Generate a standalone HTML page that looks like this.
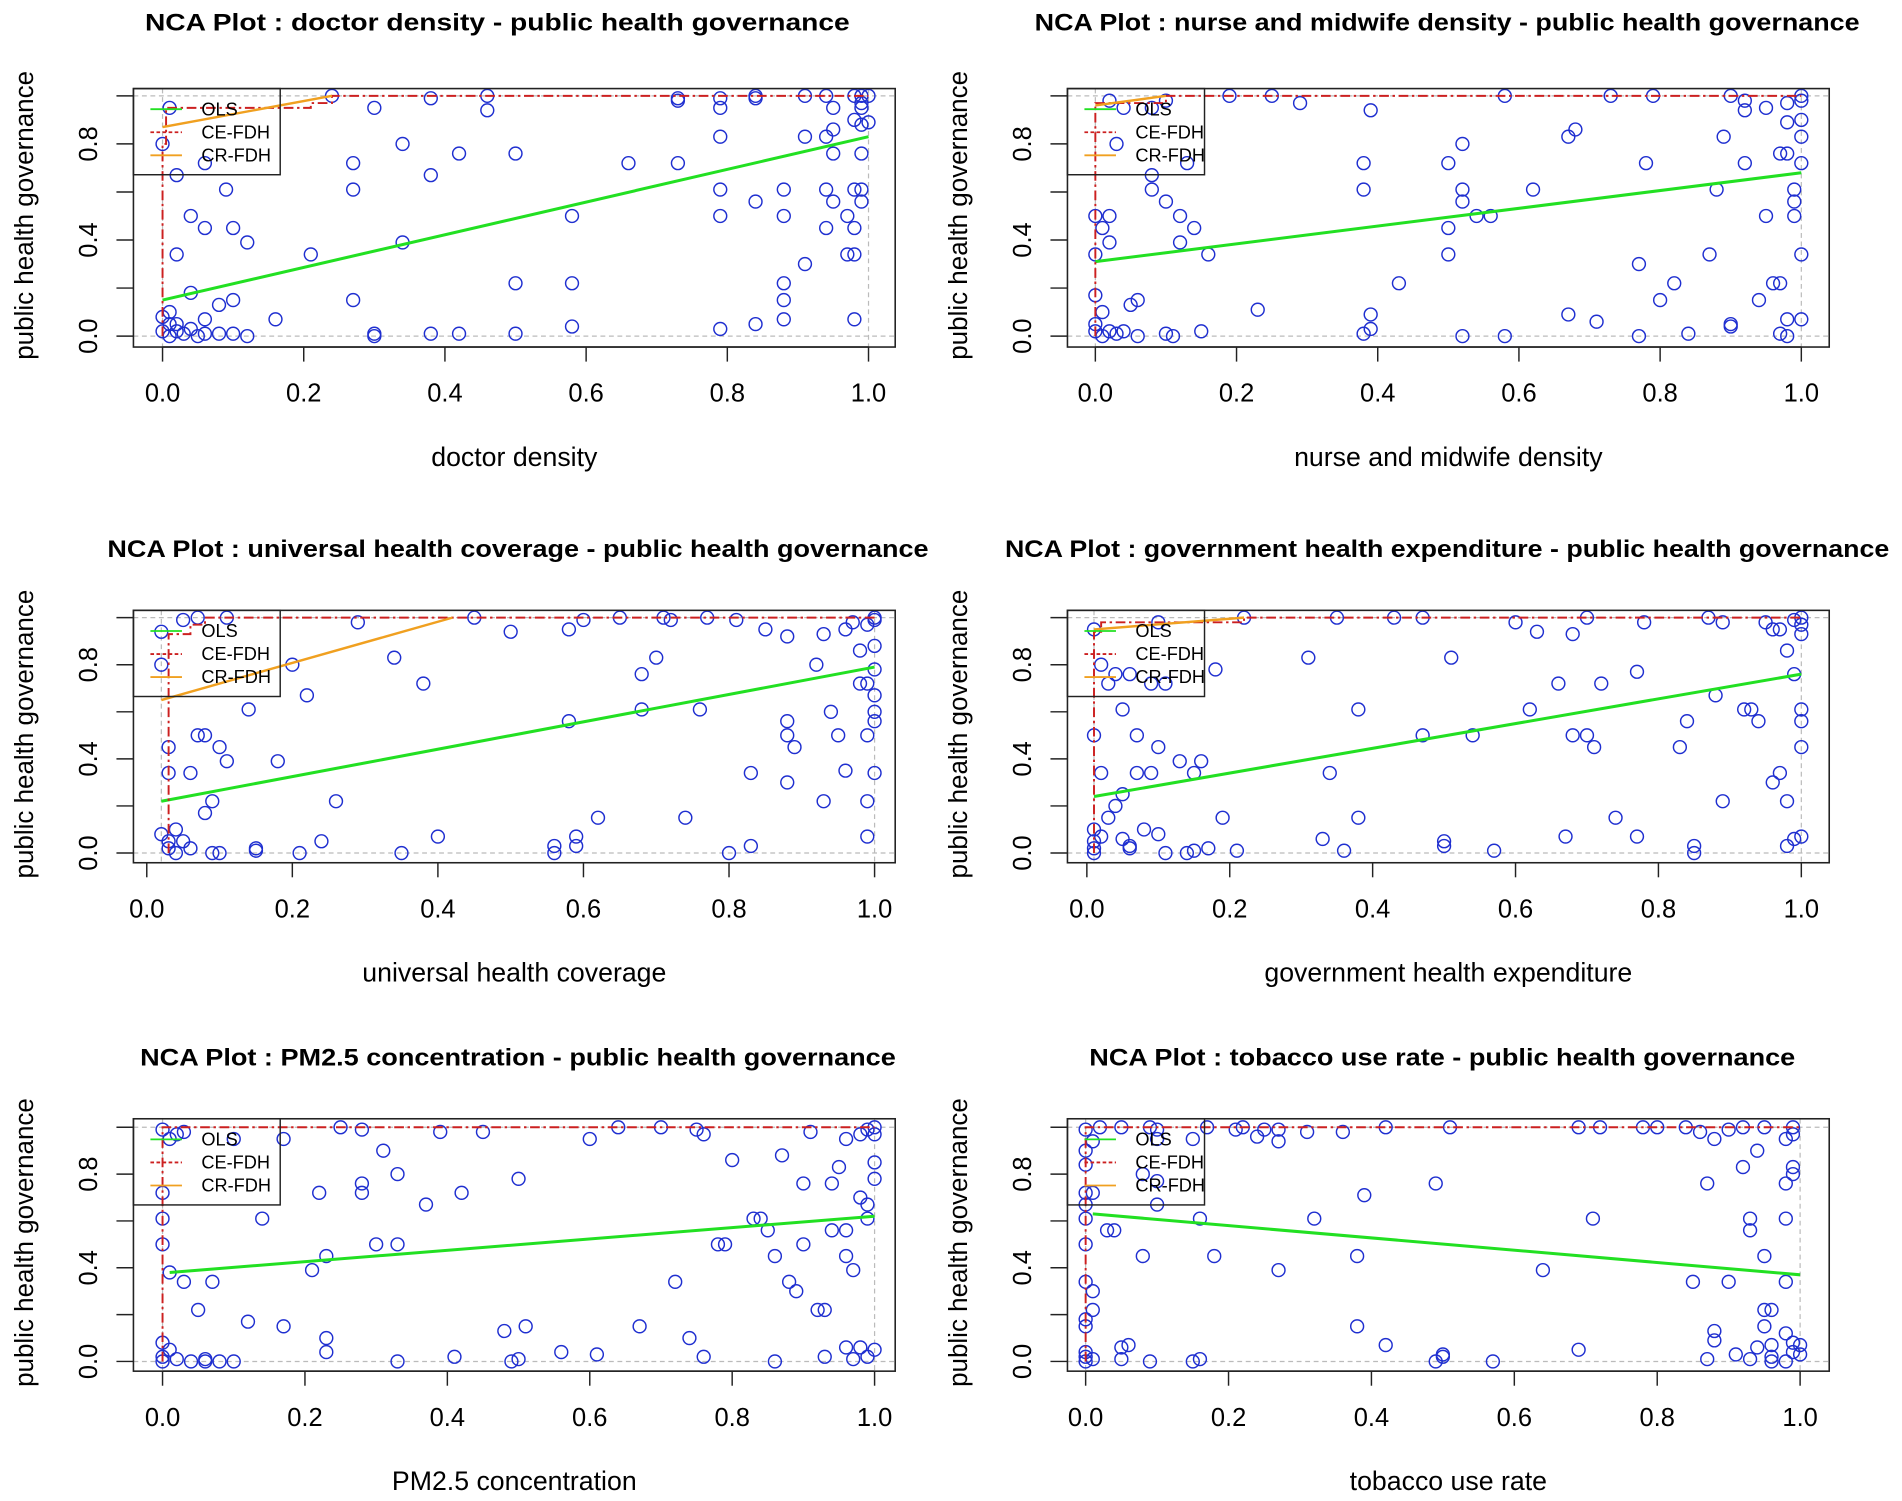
<!DOCTYPE html>
<html><head><meta charset="utf-8"><style>
html,body{margin:0;padding:0;background:#fff;}
svg{display:block;}
text{font-family:"Liberation Sans",Arial,sans-serif;fill:#000;}
</style></head><body>
<svg id="chart" width="1902" height="1501" viewBox="0 0 1568 1237" preserveAspectRatio="none" xmlns="http://www.w3.org/2000/svg"></svg>
<script>
const titles=["doctor density","nurse and midwife density","universal health coverage","government health expenditure","PM2.5 concentration","tobacco use rate"];
const xTickLabels=["0.0","0.2","0.4","0.6","0.8","1.0"];
const yTickLabels=["0.0","0.4","0.8"];
const olsLines=[[0,0.15,1,0.83],[0,0.31,1,0.68],[0.02,0.22,1,0.79],[0.01,0.24,1,0.76],[0.01,0.38,1,0.62],[0.01,0.63,1,0.37]];
const ceSteps=[
 [[0,0],[0,0.8],[0.005,0.8],[0.005,0.95],[0.21,0.95],[0.21,0.97],[0.24,0.97],[0.24,1],[1,1]],
 [[0,0],[0,0.97],[0.1,0.97],[0.1,1],[1,1]],
 [[0.03,0],[0.03,0.93],[0.06,0.93],[0.06,0.97],[0.08,0.97],[0.08,1],[1,1]],
 [[0.01,0],[0.01,0.94],[0.02,0.94],[0.02,0.98],[0.22,0.98],[0.22,1],[1,1]],
 [[0,0],[0,1],[1,1]],
 [[0,0],[0,1],[1,1]]];
const crLines=[[0,0.87,0.24,1],[0,0.96,0.1,1],[0.02,0.65,0.42,1],[0.01,0.95,0.22,1],null,null];
const pts1=[[0,0.08],[0,0.02],[0.01,0.05],[0.01,0],[0.02,0.02],[0.02,0.05],[0.03,0.01],[0.01,0.1],[0.04,0.03],[0.05,0],[0.06,0.07],[0.06,0.01],[0.08,0.01],[0.1,0.01],[0.12,0],[0.16,0.07],[0.08,0.13],[0.1,0.15],[0.04,0.18],[0.02,0.34],[0.12,0.39],[0.06,0.45],[0.1,0.45],[0.04,0.5],[0.09,0.61],[0.02,0.67],[0.06,0.72],[0,0.8],[0.01,0.95],[0.21,0.34],[0.27,0.15],[0.27,0.61],[0.27,0.72],[0.3,0],[0.3,0.01],[0.3,0.95],[0.34,0.39],[0.34,0.8],[0.38,0.01],[0.38,0.67],[0.38,0.99],[0.42,0.01],[0.42,0.76],[0.46,1],[0.46,0.94],[0.5,0.01],[0.5,0.22],[0.5,0.76],[0.58,0.04],[0.58,0.22],[0.58,0.5],[0.66,0.72],[0.73,0.72],[0.73,0.99],[0.73,0.98],[0.79,0.03],[0.79,0.5],[0.79,0.61],[0.79,0.83],[0.79,0.95],[0.79,0.99],[0.84,0.05],[0.84,0.56],[0.84,0.99],[0.84,1],[0.88,0.07],[0.88,0.15],[0.88,0.22],[0.88,0.5],[0.88,0.61],[0.91,0.3],[0.91,0.83],[0.91,1],[0.94,0.45],[0.94,0.61],[0.94,0.83],[0.94,1],[0.95,0.56],[0.95,0.76],[0.95,0.86],[0.95,0.95],[0.97,0.34],[0.97,0.5],[0.98,0.07],[0.98,0.34],[0.98,0.45],[0.98,0.61],[0.98,0.9],[0.98,1],[0.99,0.56],[0.99,0.61],[0.99,0.76],[0.99,0.88],[0.99,0.95],[0.99,0.97],[1,0.89],[1,1],[0.99,1],[0.24,1]];
const pts2=[[0,0.02],[0,0.05],[0.01,0.1],[0.01,0],[0.02,0.02],[0.03,0.01],[0.04,0.02],[0,0.17],[0,0.34],[0,0.5],[0.01,0.45],[0.02,0.39],[0.02,0.5],[0.03,0.8],[0.04,0.95],[0.05,0.13],[0.06,0.15],[0.06,0],[0.08,0.61],[0.08,0.67],[0.1,0.01],[0.11,0],[0.12,0.5],[0.12,0.39],[0.13,0.72],[0.14,0.45],[0.15,0.02],[0.16,0.34],[0.1,0.56],[0.08,0.95],[0.1,0.98],[0.02,0.98],[0.19,1],[0.23,0.11],[0.25,1],[0.29,0.97],[0.38,0.61],[0.38,0.72],[0.38,0.01],[0.39,0.03],[0.39,0.09],[0.39,0.94],[0.43,0.22],[0.5,0.34],[0.5,0.45],[0.5,0.72],[0.52,0.8],[0.52,0.56],[0.52,0.61],[0.52,0],[0.54,0.5],[0.56,0.5],[0.58,0],[0.58,1],[0.62,0.61],[0.67,0.83],[0.67,0.09],[0.68,0.86],[0.71,0.06],[0.73,1],[0.77,0.3],[0.77,0],[0.78,0.72],[0.79,1],[0.8,0.15],[0.82,0.22],[0.84,0.01],[0.87,0.34],[0.88,0.61],[0.89,0.83],[0.9,0.04],[0.9,0.05],[0.9,1],[0.92,0.72],[0.92,0.94],[0.92,0.98],[0.94,0.15],[0.95,0.5],[0.95,0.95],[0.96,0.22],[0.97,0.76],[0.97,0.22],[0.97,0.01],[0.98,0.07],[0.98,0.76],[0.98,0.89],[0.98,0.97],[0.98,0],[0.99,0.56],[0.99,0.61],[1,0.34],[1,0.72],[1,0.83],[1,0.9],[1,0.98],[1,1],[1,0.07],[0.99,0.5]];
const pts3=[[0.02,0.08],[0.03,0.02],[0.03,0.05],[0.04,0],[0.04,0.1],[0.03,0.34],[0.03,0.45],[0.02,0.8],[0.02,0.94],[0.05,0.05],[0.06,0.02],[0.06,0.34],[0.07,0.5],[0.08,0.5],[0.08,0.17],[0.09,0.22],[0.09,0],[0.1,0],[0.1,0.45],[0.11,0.39],[0.14,0.61],[0.15,0.01],[0.15,0.02],[0.18,0.39],[0.2,0.8],[0.21,0],[0.22,0.67],[0.24,0.05],[0.26,0.22],[0.29,0.98],[0.34,0.83],[0.35,0],[0.38,0.72],[0.4,0.07],[0.45,1],[0.5,0.94],[0.56,0],[0.56,0.03],[0.58,0.56],[0.58,0.95],[0.59,0.03],[0.59,0.07],[0.6,0.99],[0.62,0.15],[0.65,1],[0.68,0.61],[0.68,0.76],[0.7,0.83],[0.71,1],[0.72,0.99],[0.74,0.15],[0.76,0.61],[0.77,1],[0.8,0],[0.81,0.99],[0.83,0.03],[0.83,0.34],[0.85,0.95],[0.88,0.3],[0.88,0.5],[0.88,0.56],[0.88,0.92],[0.89,0.45],[0.92,0.8],[0.93,0.93],[0.93,0.22],[0.94,0.6],[0.95,0.5],[0.96,0.35],[0.96,0.95],[0.97,0.98],[0.98,0.72],[0.98,0.86],[0.99,0.07],[0.99,0.22],[0.99,0.5],[0.99,0.72],[0.99,0.97],[1,0.34],[1,0.56],[1,0.6],[1,0.67],[1,0.78],[1,0.88],[1,0.99],[1,1],[0.07,1],[0.11,1],[0.05,0.99]];
const pts4=[[0.01,0],[0.01,0.02],[0.01,0.05],[0.01,0.1],[0.01,0.5],[0.01,0.95],[0.02,0.34],[0.02,0.8],[0.02,0.07],[0.03,0.15],[0.03,0.72],[0.04,0.2],[0.04,0.76],[0.05,0.06],[0.05,0.61],[0.05,0.25],[0.06,0.03],[0.06,0.76],[0.06,0.02],[0.07,0.5],[0.07,0.34],[0.08,0.1],[0.09,0.72],[0.09,0.34],[0.1,0.45],[0.1,0.08],[0.11,0],[0.11,0.72],[0.1,0.98],[0.13,0.39],[0.14,0],[0.15,0.34],[0.15,0.01],[0.16,0.39],[0.17,0.02],[0.18,0.78],[0.19,0.15],[0.21,0.01],[0.22,1],[0.31,0.83],[0.33,0.06],[0.34,0.34],[0.35,1],[0.36,0.01],[0.38,0.61],[0.38,0.15],[0.43,1],[0.47,1],[0.47,0.5],[0.5,0.05],[0.5,0.03],[0.51,0.83],[0.54,0.5],[0.57,0.01],[0.6,0.98],[0.62,0.61],[0.63,0.94],[0.66,0.72],[0.67,0.07],[0.68,0.93],[0.68,0.5],[0.7,0.5],[0.7,1],[0.71,0.45],[0.72,0.72],[0.74,0.15],[0.77,0.77],[0.77,0.07],[0.78,0.98],[0.83,0.45],[0.84,0.56],[0.85,0.03],[0.85,0],[0.87,1],[0.88,0.67],[0.89,0.98],[0.89,0.22],[0.92,0.61],[0.93,0.61],[0.94,0.56],[0.95,0.98],[0.96,0.3],[0.97,0.34],[0.97,0.95],[0.98,0.22],[0.98,0.03],[0.98,0.86],[0.99,0.06],[0.99,0.76],[1,0.45],[1,0.56],[1,0.61],[1,0.93],[1,0.97],[1,1],[0.99,0.99],[0.96,0.95],[1,0.07]];
const pts5=[[0,0],[0,0.02],[0,0.08],[0,0.5],[0,0.61],[0,0.72],[0,0.99],[0.01,0.05],[0.01,0.38],[0.01,0.95],[0.02,0.01],[0.02,0.97],[0.03,0.34],[0.04,0],[0.05,0.22],[0.06,0],[0.06,0.01],[0.07,0.34],[0.08,0],[0.1,0],[0.1,0.95],[0.12,0.17],[0.14,0.61],[0.17,0.15],[0.17,0.95],[0.21,0.39],[0.22,0.72],[0.23,0.1],[0.23,0.04],[0.23,0.45],[0.25,1],[0.28,0.76],[0.28,0.72],[0.28,0.99],[0.3,0.5],[0.31,0.9],[0.33,0],[0.33,0.8],[0.33,0.5],[0.37,0.67],[0.39,0.98],[0.41,0.02],[0.42,0.72],[0.45,0.98],[0.48,0.13],[0.49,0],[0.5,0.01],[0.5,0.78],[0.51,0.15],[0.56,0.04],[0.6,0.95],[0.61,0.03],[0.64,1],[0.67,0.15],[0.7,1],[0.72,0.34],[0.74,0.1],[0.75,0.99],[0.76,0.97],[0.76,0.02],[0.78,0.5],[0.79,0.5],[0.8,0.86],[0.83,0.61],[0.84,0.61],[0.85,0.56],[0.86,0],[0.86,0.45],[0.87,0.88],[0.88,0.34],[0.89,0.3],[0.9,0.5],[0.9,0.76],[0.91,0.98],[0.92,0.22],[0.93,0.22],[0.94,0.56],[0.94,0.76],[0.95,0.83],[0.96,0.56],[0.96,0.95],[0.97,0.01],[0.97,0.39],[0.98,0.06],[0.98,0.7],[0.98,0.97],[0.99,0.02],[0.99,0.61],[0.99,0.67],[0.99,0.99],[1,0.05],[1,0.78],[1,0.85],[1,0.97],[1,1],[0.96,0.06],[0.96,0.45],[0.93,0.02],[0.03,0.98]];
const pts6=[[0,0],[0,0.02],[0,0.04],[0,0.15],[0,0.18],[0,0.34],[0,0.5],[0,0.61],[0,0.67],[0,0.72],[0,0.84],[0,0.9],[0,0.99],[0.01,0.3],[0.01,0.22],[0.01,0.72],[0.01,0.94],[0.01,0.01],[0.02,1],[0.03,0.56],[0.04,0.56],[0.05,0.06],[0.05,0.01],[0.05,1],[0.06,0.07],[0.08,0.45],[0.08,0.8],[0.09,0],[0.09,1],[0.1,0.67],[0.1,0.95],[0.1,0.77],[0.1,0.99],[0.15,0],[0.15,0.95],[0.16,0.01],[0.16,0.61],[0.17,1],[0.18,0.45],[0.21,0.99],[0.22,1],[0.24,0.96],[0.25,0.99],[0.27,0.94],[0.27,0.99],[0.27,0.39],[0.31,0.98],[0.32,0.61],[0.36,0.98],[0.38,0.45],[0.38,0.15],[0.39,0.71],[0.42,0.07],[0.42,1],[0.49,0],[0.49,0.76],[0.5,0.02],[0.5,0.03],[0.51,1],[0.57,0],[0.64,0.39],[0.69,0.05],[0.69,1],[0.71,0.61],[0.72,1],[0.78,1],[0.8,1],[0.84,1],[0.85,0.34],[0.86,0.98],[0.87,0.01],[0.87,0.76],[0.88,0.09],[0.88,0.13],[0.88,0.95],[0.9,0.34],[0.9,0.99],[0.91,0.03],[0.92,0.83],[0.92,1],[0.93,0.61],[0.93,0.56],[0.93,0.01],[0.94,0.06],[0.94,0.9],[0.95,0.45],[0.95,0.22],[0.95,0.15],[0.95,1],[0.96,0.22],[0.96,0.07],[0.96,0],[0.96,0.02],[0.98,0.61],[0.98,0.76],[0.98,0.34],[0.98,0.95],[0.98,0.12],[0.98,0],[0.99,0.04],[0.99,0.08],[0.99,0.97],[0.99,0.83],[0.99,0.8],[0.99,1],[1,0.07],[1,0.03]];
const allPts=[pts1,pts2,pts3,pts4,pts5,pts6];

// layout (pixel geometry, not data)
const layout=[
 {box:[110,73,738,286],x0:134,x1:716,y0:277,y1:79,ty:25,tc:410,tw:581},
 {box:[880,73,1508,286],x0:903,x1:1485,y0:277,y1:79,ty:25,tc:1193,tw:680},
 {box:[110,503,738,711],x0:121,x1:721,y0:703,y1:509,ty:459,tc:427,tw:677},
 {box:[880,503,1508,711],x0:896,x1:1485,y0:703,y1:509,ty:459,tc:1193,tw:729},
 {box:[110,922,738,1130],x0:134,x1:721,y0:1122,y1:929,ty:878,tc:427,tw:623},
 {box:[880,922,1508,1130],x0:895,x1:1484,y0:1122,y1:929,ty:878,tc:1189,tw:582}];
const NS="http://www.w3.org/2000/svg";
const svg=document.getElementById('chart');
function mk(tag,attrs,parent){const e=document.createElementNS(NS,tag);for(const k in attrs)e.setAttribute(k,attrs[k]);(parent||svg).appendChild(e);return e;}

layout.forEach((L,i)=>{
 const g=mk('g',{});
 
 
 const sx=v=>L.x0+(L.x1-L.x0)*v, sy=v=>L.y0+(L.y1-L.y0)*v;
 const [bl,bt,br,bb]=L.box, cx=(bl+br)/2;
 const t=mk('text',{x:L.tc,y:L.ty,'text-anchor':'middle','font-size':20,'font-weight':'bold',textLength:L.tw,lengthAdjust:'spacingAndGlyphs'},g);
 t.textContent='NCA Plot : '+titles[i]+' - public health governance';
 
 
 const xs=allPts[i].map(p=>p[0]);const xmin=Math.min(...xs),xmax=Math.max(...xs);
 mk('line',{x1:bl,x2:br,y1:sy(0),y2:sy(0),stroke:'#bbb','stroke-dasharray':'4 3','stroke-width':1},g);
 mk('line',{x1:bl,x2:br,y1:sy(1),y2:sy(1),stroke:'#bbb','stroke-dasharray':'4 3','stroke-width':1},g);
 mk('line',{x1:sx(xmax),x2:sx(xmax),y1:bt,y2:bb,stroke:'#bbb','stroke-dasharray':'4 3','stroke-width':1},g);
 mk('line',{x1:sx(xmin),x2:sx(xmin),y1:bt,y2:bb,stroke:'#bbb','stroke-dasharray':'4 3','stroke-width':1},g);
 allPts[i].forEach(p=>{
  const c=mk('circle',{cx:sx(p[0]),cy:sy(p[1]),r:5.3,fill:'none',stroke:'#1f2fd0','stroke-width':1.2},g);
  
  
 });
 const o=olsLines[i];
 const ol=mk('line',{x1:sx(o[0]),y1:sy(o[1]),x2:sx(o[2]),y2:sy(o[3]),stroke:'#22e022','stroke-width':2.5},g);
 
 
 const ce=mk('polyline',{points:ceSteps[i].map(p=>sx(p[0])+','+sy(p[1])).join(' '),fill:'none',stroke:'#cc2020','stroke-width':1.6,'stroke-dasharray':'8 3 2 3'},g);
 
 
 if(crLines[i]){const c=crLines[i];
  const cr=mk('line',{x1:sx(c[0]),y1:sy(c[1]),x2:sx(c[2]),y2:sy(c[3]),stroke:'#f0a020','stroke-width':2},g);
  
  
 }
 mk('rect',{x:bl,y:bt,width:br-bl,height:bb-bt,fill:'none',stroke:'#222','stroke-width':1.3},g);
 xTickLabels.forEach((lab,k)=>{const v=parseFloat(lab);
  mk('line',{x1:sx(v),x2:sx(v),y1:bb,y2:bb+12,stroke:'#222','stroke-width':1.2},g);
  const tx=mk('text',{x:sx(v),y:bb+45,'text-anchor':'middle','font-size':21},g);tx.textContent=lab;
  
  
 });
 mk('line',{x1:sx(0),x2:sx(1),y1:bb,y2:bb,stroke:'#222','stroke-width':1.2},g);
 [0,0.2,0.4,0.6,0.8,1].forEach(v=>{mk('line',{x1:bl-14,x2:bl,y1:sy(v),y2:sy(v),stroke:'#222','stroke-width':1.2},g);});
 yTickLabels.forEach(lab=>{const v=parseFloat(lab);
  const ty=mk('text',{x:0,y:0,'text-anchor':'middle','font-size':21,transform:`translate(${bl-30},${sy(v)}) rotate(-90)`},g);ty.textContent=lab;
  
  
 });
 const xl=mk('text',{x:cx,y:bb+98,'text-anchor':'middle','font-size':22},g);xl.textContent=titles[i];
 
 
 const yl=mk('text',{x:0,y:0,'text-anchor':'middle','font-size':21,textLength:238,lengthAdjust:'spacingAndGlyphs',transform:`translate(${bl-83},${(bt+bb)/2-2}) rotate(-90)`},g);yl.textContent='public health governance';
 
 
 const lg=mk('g',{},g);
 
 
 mk('rect',{x:bl,y:bt,width:i%2?113:121,height:71,fill:'none',stroke:'#222','stroke-width':1.2},lg);
 const items=[['OLS','#22e022',''],['CE-FDH','#cc2020','3 2'],['CR-FDH','#f0a020','']];
 items.forEach((it,k)=>{const yy=bt+17+k*19;
  mk('line',{x1:bl+14,x2:bl+40,y1:yy,y2:yy,stroke:it[1],'stroke-width':1.5,'stroke-dasharray':it[2]},lg);
  const tt=mk('text',{x:bl+56,y:yy+5,'font-size':15},lg);tt.textContent=it[0];
  
  
 });
});
</script>
</body></html>
